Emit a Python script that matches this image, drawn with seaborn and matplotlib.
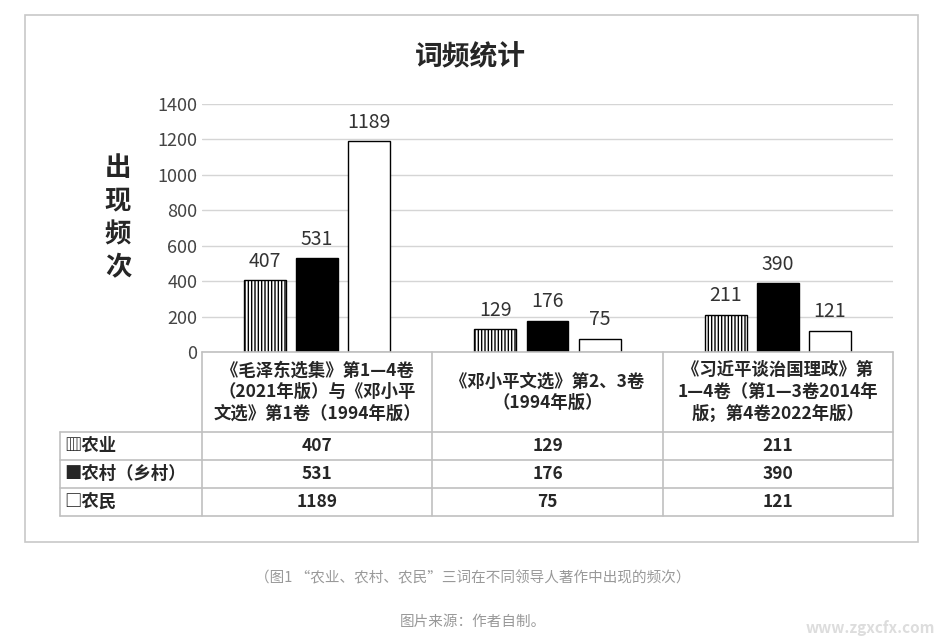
import matplotlib
matplotlib.use("Agg")
import matplotlib.pyplot as plt
import seaborn as sns
import pandas as pd
from matplotlib.lines import Line2D
from matplotlib.patches import Rectangle

sns.set_theme(style="white")
plt.rcParams['font.family'] = ['Noto Sans CJK SC', 'DejaVu Sans']

categories = ["《毛泽东选集》第1—4卷\n（2021年版）与《邓小平\n文选》第1卷（1994年版）",
              "《邓小平文选》第2、3卷\n（1994年版）",
              "《习近平谈治国理政》第\n1—4卷（第1—3卷2014年\n版；第4卷2022年版）"]
series = ["农业", "农村（乡村）", "农民"]
legend_marks = ["▥", "■", "□"]
agri = [407, 129, 211]
rural = [531, 176, 390]
farmer = [1189, 75, 121]
yticks = [0, 200, 400, 600, 800, 1000, 1200, 1400]

rows = []
for s, vals in zip(series, [agri, rural, farmer]):
    for i, v in enumerate(vals):
        rows.append({"cat": i, "series": s, "val": v})
df = pd.DataFrame(rows)

W, H = 946, 639
fig = plt.figure(figsize=(W/100, H/100), dpi=100)
fig.patch.set_facecolor("white")

def fx(x): return x / W
def fy(y): return 1 - y / H

# outer frame
fig.add_artist(Rectangle((fx(25), fy(542)), fx(918)-fx(25), fy(15)-fy(542),
                         fill=False, edgecolor="#c8c8c8", lw=1.2, transform=fig.transFigure))

ax = fig.add_axes([fx(202), fy(352), fx(893)-fx(202), fy(104)-fy(352)])
sns.barplot(data=df, x="cat", y="val", hue="series", hue_order=series,
            palette=["white", "black", "white"], edgecolor="black", linewidth=1,
            gap=0.2, width=0.68, ax=ax, legend=False)
for i, bar in enumerate(ax.patches[:3]):
    bar.set_hatch("|||||")
for cont in ax.containers:
    ax.bar_label(cont, padding=6, fontsize=14, color="#333333")
ax.set_xlim(-0.5, 2.5)
ax.set_ylim(0, 1400)
ax.set_yticks(yticks)
ax.tick_params(axis="y", labelsize=13, colors="#444444", length=0)
ax.set_xticks([])
ax.set_xlabel("")
ax.set_ylabel("")
ax.grid(axis="y", color="#d5d5d5", lw=1)
ax.set_axisbelow(True)
for sp in ax.spines.values():
    sp.set_visible(False)

fig.text(fx(470), fy(57), "词频统计", ha="center", va="center", fontsize=20, fontweight="bold")
fig.text(fx(118), fy(218), "出\n现\n频\n次", ha="center", va="center", fontsize=19,
         fontweight="bold", linespacing=1.3)

# table
gc = "#c0c0c0"
def line(x0, y0, x1, y1):
    fig.add_artist(Line2D([fx(x0), fx(x1)], [fy(y0), fy(y1)], color=gc, lw=1.2,
                          transform=fig.transFigure))
colx = [202, 432, 663, 893]
line(202, 352, 893, 352)
for y in [432, 460, 488, 516]:
    line(60, y, 893, y)
for x in colx:
    line(x, 352, x, 516)
line(60, 432, 60, 516)

for i, c in enumerate(categories):
    fig.text(fx((colx[i]+colx[i+1])/2), fy(392), c, ha="center", va="center",
             fontsize=12.5, fontweight="bold", linespacing=1.25)
rowy = [446, 474, 502]
for r, (s, m, vals) in enumerate(zip(series, legend_marks, [agri, rural, farmer])):
    fig.text(fx(64), fy(rowy[r]), m + s, ha="left", va="center", fontsize=12.5,
             fontweight="bold", family=['Noto Sans CJK SC', 'DejaVu Sans'])
    for i, v in enumerate(vals):
        fig.text(fx((colx[i]+colx[i+1])/2), fy(rowy[r]), str(v), ha="center",
                 va="center", fontsize=12.5, fontweight="bold")

fig.text(fx(473), fy(578), "（图1 “农业、农村、农民”三词在不同领导人著作中出现的频次）",
         ha="center", va="center", fontsize=10.5, color="#999999")
fig.text(fx(473), fy(622), "图片来源：作者自制。", ha="center", va="center",
         fontsize=10.5, color="#999999")
fig.text(fx(935), fy(628), "www.zgxcfx.com", ha="right", va="center",
         fontsize=11, color="#dddddd", style="italic", fontweight="bold")

fig.savefig("out.png", dpi=100)
